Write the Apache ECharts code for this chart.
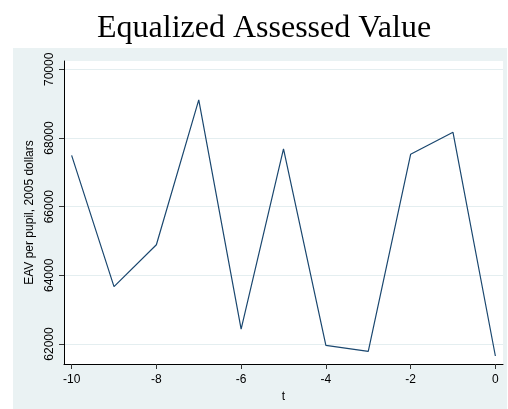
<!DOCTYPE html>
<html>
<head>
<meta charset="utf-8">
<script src="https://cdn.jsdelivr.net/npm/echarts@6/dist/echarts.min.js"></script>
<style>
  html, body { margin: 0; padding: 0; background: #fff; }
  #chart { width: 508px; height: 409px; }
</style>
</head>
<body>
<div id="chart"></div>
<script>
// data
var tValues = [-10, -9, -8, -7, -6, -5, -4, -3, -2, -1, 0];
var eavValues = [67495, 63670, 64890, 69110, 62430, 67680, 61960, 61785, 67525, 68165, 61650];
var xTicks = [-10, -8, -6, -4, -2, 0];
var yTicks = [62000, 64000, 66000, 68000, 70000];

var points = tValues.map(function (t, i) { return [t, eavValues[i]]; });

var chart = echarts.init(document.getElementById("chart"));

var option = {
  backgroundColor: "#ffffff",
  animation: false,
  // stata style grey-blue backdrop
  graphic: [{
    type: "rect",
    z: -10,
    shape: { x: 13, y: 48, width: 494, height: 361 },
    style: { fill: "#eaf2f3" }
  }],
  title: {
    text: "Equalized Assessed Value",
    left: 92,
    top: 8,
    textStyle: {
      fontFamily: "Liberation Serif",
      fontWeight: "normal",
      fontSize: 32,
      color: "#000"
    }
  },
  grid: {
    left: 64,
    right: 5,
    top: 61,
    bottom: 45,
    show: true,
    backgroundColor: "#ffffff",
    borderWidth: 0
  },
  xAxis: {
    type: "value",
    min: -10.18,
    max: 0.18,
    name: "t",
    nameLocation: "middle",
    nameGap: 21,
    nameTextStyle: { fontFamily: "Liberation Sans", fontSize: 12, color: "#000" },
    axisLine: { show: true, onZero: false, lineStyle: { color: "#000", width: 1 } },
    axisTick: { show: true, length: 5, customValues: xTicks, lineStyle: { color: "#333" } },
    axisLabel: {
      customValues: xTicks,
      margin: 10,
      formatter: function (v) { return String(v); },
      fontFamily: "Liberation Sans",
      fontSize: 12,
      color: "#000"
    },
    splitLine: { show: false }
  },
  yAxis: {
    type: "value",
    min: 61417,
    max: 70242,
    name: "EAV per pupil, 2005 dollars",
    nameLocation: "middle",
    nameRotate: 90,
    nameGap: 22,
    nameTextStyle: { fontFamily: "Liberation Sans", fontSize: 12, color: "#000" },
    axisLine: { show: true, onZero: false, lineStyle: { color: "#000", width: 1 } },
    axisTick: { show: true, length: 5, customValues: yTicks, lineStyle: { color: "#333" } },
    axisLabel: {
      customValues: yTicks,
      rotate: 90,
      margin: 8,
      formatter: function (v) { return String(v); },
      fontFamily: "Liberation Sans",
      fontSize: 12,
      color: "#000"
    },
    splitLine: { show: true, lineStyle: { color: "#e4eef0", width: 1 } }
  },
  series: [{
    type: "line",
    data: points,
    symbol: "none",
    lineStyle: { color: "#1a476f", width: 1.2 }
  }]
};

chart.setOption(option);
</script>
</body>
</html>
